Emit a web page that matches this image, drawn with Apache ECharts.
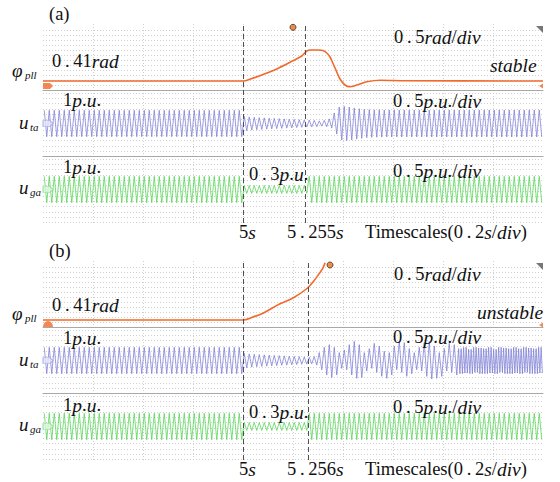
<!DOCTYPE html>
<html><head><meta charset="utf-8">
<script src="https://cdn.jsdelivr.net/npm/echarts@6/dist/echarts.min.js"></script>
<style>html,body{margin:0;padding:0;background:#fff}#c{width:560px;height:482px}</style>
</head><body><div id="c"></div>
<script>
// ---------------- data ----------------
const T_MIN = 4.2, T_MAX = 6.2, T_DIV = 0.2, CYCLE = 0.02; // 0.2 s/div, 50 Hz
const eventTimesA = [5.0, 5.255];
const eventTimesB = [5.0, 5.256];
const markerTimeA = [5.2];
const markerTimeB = [5.348];

// phase angle of PLL (rad)
const phiA = [[4.2,0.41],[5.0,0.41],[5.03,0.45],[5.08,0.54],[5.135,0.65],[5.2,0.815],[5.235,0.91],[5.255,1.01],
  [5.27,1.03],[5.3,1.03],[5.32,1.02],[5.335,0.97],[5.348,0.89],[5.36,0.76],[5.37,0.65],[5.388,0.45],[5.408,0.33],
  [5.428,0.295],[5.455,0.33],[5.495,0.395],[5.55,0.425],[5.65,0.415],[6.2,0.41]];
const phiB = [[4.2,0.41],[5.0,0.41],[5.04,0.47],[5.08,0.545],[5.148,0.735],[5.2,0.85],[5.256,1.04],[5.281,1.176],
  [5.301,1.31],[5.319,1.444],[5.328,1.556]];

// amplitude of each 50 Hz cycle (p.u.), 4.2 s – 6.2 s (100 cycles)
const uTaA = [
 1,1,1,1,1,1,1,1,1,1, 1,1,1,1,1,1,1,1,1,1, 1,1,1,1,1,1,1,1,1,1, 1,1,1,1,1,1,1,1,1,1,
 0.55,0.5,0.47,0.45,0.43,0.41,0.39,0.37,0.35,0.33,
 0.31,0.29,0.27,0.26,0.24,0.2,0.24,0.35,0.8,1.25,
 1.3,1.25,1.18,1.12,1.08,1.05,1.04,1.03,1.02,1.02,
 1.02,1.02,1.02,1.02,1.02,1.02,1.02,1.02,1.02,1.02, 1.02,1.02,1.02,1.02,1.02,1.02,1.02,1.02,1.02,1.02,
 1.02,1.02,1.02,1.02,1.02,1.02,1.02,1.02,1.02,1.02];
const uGaA = [
 1,1,1,1,1,1,1,1,1,1, 1,1,1,1,1,1,1,1,1,1, 1,1,1,1,1,1,1,1,1,1, 1,1,1,1,1,1,1,1,1,1,
 0.3,0.3,0.3,0.3,0.3,0.3,0.3,0.3,0.3,0.3, 0.3,0.3,0.3,1,1,1,1,1,1,1,
 1,1,1,1,1,1,1,1,1,1, 1,1,1,1,1,1,1,1,1,1, 1,1,1,1,1,1,1,1,1,1, 1,1,1,1,1,1,1,1,1,1];
const uTaBTop = [
 1,1,1,1,1,1,1,1,1,1, 1,1,1,1,1,1,1,1,1,1, 1,1,1,1,1,1,1,1,1,1, 1,1,1,1,1,1,1,1,1,1,
 0.55,0.5,0.47,0.45,0.43,0.41,0.39,0.37,0.35,0.33,
 0.31,0.29,0.27,0.25,0.3,0.6,1.0,1.2,1.0,0.6,
 0.8,1.2,1.45,1.2,0.6,0.9,1.3,1.1,0.7,0.6,
 1.1,1.45,1.35,0.9,0.6,1.0,1.35,1.45,1.1,0.6,
 0.9,1.3,1.2,0.9,1.0,0.85,1.0,0.95,0.9,1.0, 0.85,1.0,0.95,0.9,1.0,0.9,1.0,0.95,0.9,1.0];
const uTaBBot = [
 1,1,1,1,1,1,1,1,1,1, 1,1,1,1,1,1,1,1,1,1, 1,1,1,1,1,1,1,1,1,1, 1,1,1,1,1,1,1,1,1,1,
 0.55,0.5,0.47,0.45,0.43,0.41,0.39,0.37,0.35,0.33,
 0.31,0.29,0.27,0.25,0.35,0.7,1.1,1.3,1.1,0.6,
 0.7,1.1,1.35,1.3,0.8,0.6,0.9,1.2,1.35,1.1,
 0.7,0.9,1.2,1.0,0.7,0.8,1.2,1.4,1.35,1.2,
 0.8,0.9,1.1,1.0,0.95,1.0,0.9,1.0,1.0,0.95, 1.0,0.9,1.0,1.0,0.95,1.0,0.9,1.0,1.0,0.95];
// oscillations per 20 ms window (dense, higher-frequency part at the end of (b))
const uTaBSub = [
 1,1,1,1,1,1,1,1,1,1, 1,1,1,1,1,1,1,1,1,1, 1,1,1,1,1,1,1,1,1,1, 1,1,1,1,1,1,1,1,1,1,
 1,1,1,1,1,1,1,1,1,1, 1,1,1,1,1,1,1,1,1,1, 1,1,1,1,1,1,1,1,1,1, 1,1,1,1,1,1,1,1,1,1,
 1,1,1,2,2,2,2,2,2,2, 2,2,2,2,2,2,2,2,2,2];
const uGaB = uGaA.slice();

// ---------------- build ----------------
function wave(top, bot, sub) {
  const d = [];
  top.forEach((a, k) => {
    const t0 = T_MIN + k * CYCLE, n = sub ? sub[k] : 1;
    for (let j = 0; j < n; j++) {
      d.push([t0 + (j + 0.25) / n * CYCLE, a], [t0 + (j + 0.75) / n * CYCLE, -bot[k]]);
    }
  });
  return d;
}

const C_PHI = '#f06a2c', C_TA = '#7c7cd6', C_GA = '#52d452';
const DOT = { color: '#c4c4c4', width: 0.8, type: [1, 2] };
const SEP = '#a8a8a8';

const grids = [], xAxes = [], yAxes = [], series = [];

function addGrid(top, height, ymin, ymax, yint, sepLine, vlines) {
  const i = grids.length;
  grids.push({ left: 43, width: 500, top, height, outerBoundsMode: 'none', containLabel: false });
  xAxes.push({
    type: 'value', gridIndex: i, min: T_MIN, max: T_MAX, interval: T_DIV,
    axisLabel: { show: false }, axisTick: { show: false },
    axisLine: { show: !!sepLine, onZero: false, lineStyle: { color: SEP, width: 1 } },
    splitLine: { show: !!vlines, showMinLine: false, showMaxLine: false, lineStyle: DOT }
  });
  yAxes.push({
    type: 'value', gridIndex: i, min: ymin, max: ymax, interval: yint,
    axisLabel: { show: false }, axisTick: { show: false }, axisLine: { show: false },
    splitLine: { show: yint > 0, lineStyle: DOT }
  });
  return i;
}

const pentagon = 'path://M0,0 L7,0 L10,3 L7,6 L0,6 Z';
const halfDisc = 'path://M0,10 A10,10 0 0 1 20,10 Z';
const leftTri = 'path://M4,0 L0,2.5 L4,5 Z';
const cornerTri = 'path://M0,0 L7,0 L7,7 Z';

function panel(phi, phiMin, dy, eventTimes, markerT, ta, taBot, taSub, ga, unstable) {
  // background: vertical divisions + event lines
  const bg = addGrid(24 + dy, 199, 0, 1, 0, false, true);
  series.push({
    type: 'line', xAxisIndex: bg, yAxisIndex: bg, data: [], z: 6,
    markLine: { silent: true, symbol: 'none', label: { show: false },
      lineStyle: { color: '#505050', type: [5, 3], width: 1 },
      data: eventTimes.map(t => ({ xAxis: t })) }
  });
  // channel 1 : phi_pll
  const g1 = addGrid(30.5 + dy, 60, phiMin, phiMin + 1.2, 0.1, true, false);
  series.push({ type: 'line', xAxisIndex: g1, yAxisIndex: g1, data: phi, showSymbol: false, smooth: 0.35,
    clip: false, lineStyle: { color: C_PHI, width: 1.6 }, z: 4 });
  series.push({ type: 'scatter', xAxisIndex: g1, yAxisIndex: g1, clip: false, z: 7, silent: true,
    data: [
      { value: [T_MIN, unstable ? phiMin + 0.07 : 0.31], symbol: unstable ? halfDisc : pentagon,
        symbolSize: [10, 6], symbolOffset: [5, 0], itemStyle: { color: C_PHI } },
      { value: [T_MAX, 0.31], symbol: leftTri, symbolSize: [4, 5], symbolOffset: [-2, 0], itemStyle: { color: C_PHI } },
      { value: [T_MAX, phiMin + 1.22], symbol: cornerTri, symbolSize: [7, 7], symbolOffset: [-3.5, 0], itemStyle: { color: '#555' } },
      { value: [markerT[0], phiMin + 1.2 + (unstable ? 0.05 : 0.064)], symbol: 'circle', symbolSize: 6,
        itemStyle: { color: '#e8701c', borderColor: '#3a2a1a', borderWidth: 1 } }
    ] });
  // channel 2 : u_ta
  const g2 = addGrid(90.5 + dy, 66, -2.5, 2.5, 0.4, true, false);
  series.push({ type: 'line', xAxisIndex: g2, yAxisIndex: g2, data: wave(ta, taBot, taSub), showSymbol: false,
    sampling: 'none', clip: false, lineStyle: { color: C_TA, width: 0.75 }, z: 3 });
  series.push({ type: 'scatter', xAxisIndex: g2, yAxisIndex: g2, clip: false, z: 7, silent: true,
    data: [{ value: [T_MIN, 0], symbol: pentagon, symbolSize: [10, 6], symbolOffset: [5, 0],
      itemStyle: { color: '#e4e4fa', borderColor: '#9a9ae0', borderWidth: 0.8 } }] });
  // channel 3 : u_ga
  const g3 = addGrid(156.5 + dy, 66, -2.5, 2.5, 0.4, false, false);
  series.push({ type: 'line', xAxisIndex: g3, yAxisIndex: g3, data: wave(ga, ga, null), showSymbol: false,
    sampling: 'none', clip: false, lineStyle: { color: C_GA, width: 0.75 }, z: 3 });
  series.push({ type: 'scatter', xAxisIndex: g3, yAxisIndex: g3, clip: false, z: 7, silent: true,
    data: [{ value: [T_MIN, 0], symbol: pentagon, symbolSize: [10, 6], symbolOffset: [5, 0],
      itemStyle: { color: '#dcf6dc', borderColor: '#80d880', borderWidth: 0.8 } }] });
}

panel(phiA, 0.22, 0, eventTimesA, markerTimeA, uTaA, uTaA, null, uGaA, false);
panel(phiB, 0.26, 237, eventTimesB, markerTimeB, uTaBTop, uTaBBot, uTaBSub, uGaB, true);

// ---------------- text ----------------
const FF = "'Liberation Serif', serif";
const rich = {
  n: { fontFamily: FF, fontSize: 18.5, fill: '#111' },
  i: { fontFamily: FF, fontSize: 19.5, fontStyle: 'italic', fill: '#111' },
  p: { fontFamily: FF, fontSize: 18.5, fill: '#111', width: 12, align: 'center' },
  r: { fontFamily: FF, fontSize: 18.5, fill: '#111' },
  s: { fontFamily: FF, fontSize: 11, fontStyle: 'italic', fill: '#111' },
  b: { fontFamily: FF, fontSize: 19, fontStyle: 'italic', fill: '#111' }
};
function txt(x, y, text) {
  return { type: 'text', x, y, silent: true, z: 20,
    style: { text, rich, fontFamily: FF, textAlign: 'left', textVerticalAlign: 'middle', verticalAlign: 'middle' } };
}
function labels(dy, p) {
  return [
    txt(49, 14 + dy, p.tag),
    txt(12, p.phiY, '{b|φ}'), txt(25, p.phiY + 5, '{s|pll}'),
    txt(52, p.radY, '{n|0}{p|.}{n|41}{i|rad}'),
    txt(63, p.pu1Y, '{n|1}{i|p}{n|.}{i|u}{n|.}'),
    txt(19, p.utaY, '{b|u}'), txt(30, p.utaY + 5, '{s|ta}'),
    txt(63, p.pu2Y, '{n|1}{i|p}{n|.}{i|u}{n|.}'),
    txt(19, p.ugaY, '{b|u}'), txt(30, p.ugaY + 5, '{s|ga}'),
    txt(249, p.p3Y, '{n|0}{p|.}{n|3}{i|p}{n|.}{i|u}{n|.}'),
    txt(394, 37 + dy, '{n|0}{p|.}{n|5}{i|rad}{n|/}{i|div}'),
    txt(p.stX, p.stY, '{i|' + p.st + '}'),
    txt(393, p.d2Y, '{n|0}{p|.}{n|5}{i|p}{n|.}{i|u}{n|./}{i|div}'),
    txt(393, p.d3Y, '{n|0}{p|.}{n|5}{i|p}{n|.}{i|u}{n|./}{i|div}'),
    txt(239, 232 + dy, '{n|5}{i|s}'),
    txt(287, 232 + dy, p.ev),
    txt(365, 232 + dy, '{r|Timescales}{n|(0}{p|.}{n|2}{i|s}{n|/}{i|div}{n|)}')
  ];
}
const graphic = [
  ...labels(0, { tag: '{r|(a)}', phiY: 70, radY: 61, pu1Y: 100, utaY: 122, pu2Y: 167, ugaY: 187, p3Y: 174,
    st: 'stable', stX: 490, stY: 65, d2Y: 101, d3Y: 171, ev: '{n|5}{p|.}{n|255}{i|s}' }),
  ...labels(237, { tag: '{r|(b)}', phiY: 313, radY: 305, pu1Y: 338, utaY: 359, pu2Y: 405, ugaY: 424, p3Y: 412,
    st: 'unstable', stX: 477, stY: 312, d2Y: 337, d3Y: 407, ev: '{n|5}{p|.}{n|256}{i|s}' })
];

const chart = echarts.init(document.getElementById('c'), null, { renderer: 'svg' });
chart.setOption({
  animation: false, backgroundColor: '#fff',
  grid: grids, xAxis: xAxes, yAxis: yAxes, series, graphic
});
</script></body></html>
